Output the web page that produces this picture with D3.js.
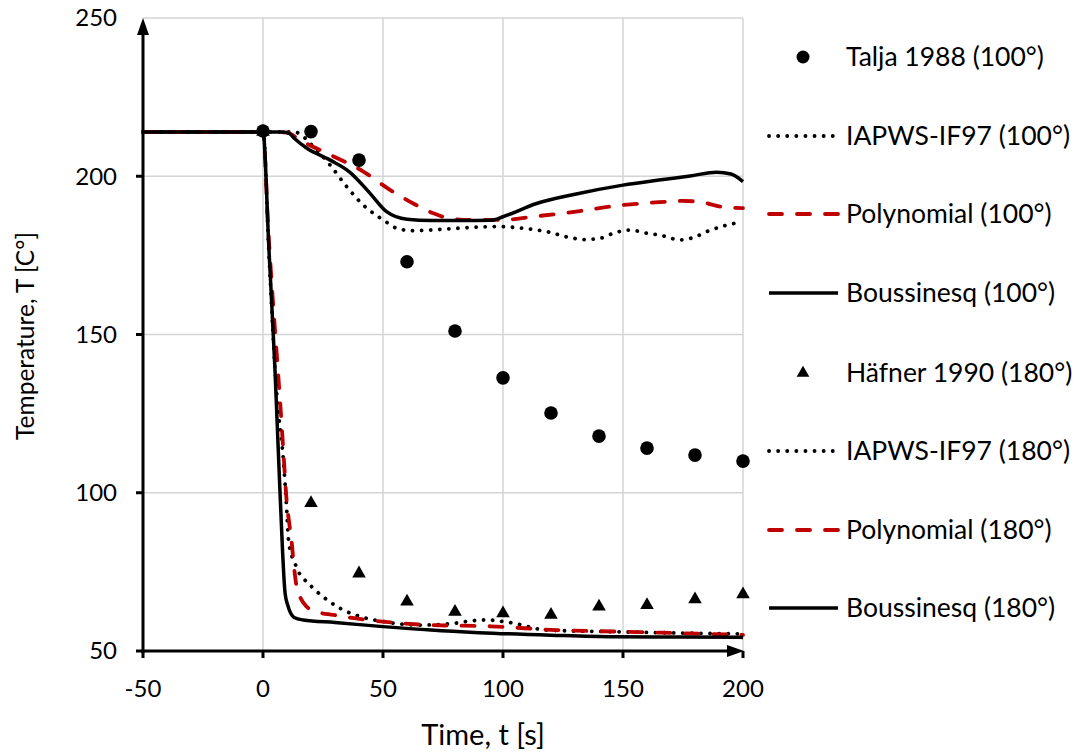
<!DOCTYPE html>
<html>
<head>
<meta charset="utf-8">
<script src="https://cdn.jsdelivr.net/npm/d3@7"></script>
<style>
  body { margin: 0; background: #fff; }
  svg text { font-family: Lato, "Open Sans", sans-serif; fill: #000; }
</style>
</head>
<body>
<div id="chart"></div>
<script>
// measured data (100° pipe, 180° pipe)
const tPts = [0, 20, 40, 60, 80, 100, 120, 140, 160, 180, 200];
const talja100 = [214.3, 214.1, 205.1, 173, 151.1, 136.3, 125.2, 117.9, 114.1, 111.9, 110];
const hafner180 = [214, 96.7, 74.5, 65.6, 62.4, 61.9, 61.4, 64.0, 64.5, 66.3, 67.9];

// simulated curves
const iapws100T = [-50, 0, 10, 14, 20.3, 27.9, 34.9, 41.8, 50.1, 55.7, 62.6, 69.6, 82, 97.4, 108, 118.2, 128, 134, 140, 146, 152.9, 160, 165.4, 173.8, 180, 184.9, 192, 199.5];
const iapws100V = [214, 214, 214, 213.8, 209.9, 203.6, 196.7, 190.9, 186.2, 183.6, 182.8, 183, 183.6, 184.1, 183.6, 182.5, 180.6, 180, 180.3, 182, 183, 182, 181.4, 179.9, 180.8, 182.5, 184.3, 185.6];

const poly100T = [-50, 0, 10, 15.4, 27.9, 41.8, 52.9, 62.6, 71, 78, 86.3, 100, 112, 125, 150, 165, 175, 183, 190, 200];
const poly100V = [214, 214, 213.8, 211.4, 206.8, 201.5, 195.7, 191.4, 188.3, 186.6, 186.2, 186.2, 187.2, 188.3, 190.9, 191.8, 192.2, 191.8, 190.5, 189.9];

const bous100T = [-50, 0, 8, 11, 13, 18, 28, 36, 44.6, 51.5, 60, 70, 82, 95, 100, 114, 130, 150, 165, 178, 189, 195, 200];
const bous100V = [214, 214, 214, 213.5, 212, 209, 205.1, 201.4, 194.6, 188.8, 186.4, 186, 186, 186.1, 187.2, 191.4, 194.3, 197.2, 198.8, 200.1, 201.3, 200.7, 198.3];

const iapws180T = [-50, 0, 2.5, 5.7, 8.5, 9.9, 10.5, 12, 13.3, 14.7, 16.8, 20.3, 22.4, 27, 32.1, 40, 50.1, 65.4, 78, 87.6, 93, 102.9, 118.2, 146, 180.7, 200];
const iapws180V = [214, 214, 175, 131.4, 110.3, 94.5, 86.1, 80, 77.7, 75.1, 73, 70.3, 68.8, 66, 63.5, 61, 59.3, 58.2, 58.6, 59.6, 59.8, 59, 56.6, 56.1, 55.6, 55.4];

const poly180T = [-50, 0, 2.2, 4, 5.7, 7.2, 8.5, 9.9, 11, 12, 13, 14, 15.5, 18.2, 22, 29.3, 46, 69.6, 95, 122.4, 150.1, 175, 200];
const poly180V = [214, 214, 183, 162, 144, 128, 113, 97, 90, 84, 76, 70.3, 67, 64, 62.5, 61.4, 59.6, 58.2, 57.8, 56.6, 56.1, 55.6, 55.1];

const bous180T = [-50, 0, 2.5, 5, 7.1, 9.2, 10.3, 11.5, 13, 16.8, 30, 50, 70, 90, 120, 146, 175, 200];
const bous180V = [214, 214, 176.5, 138.8, 99.9, 68.3, 64.5, 62, 60.6, 59.8, 59, 57.7, 56.6, 55.8, 55, 54.5, 54.4, 54.3];

const xTicks = [-50, 0, 50, 100, 150, 200];
const yTicks = [50, 100, 150, 200, 250];

const legendLabels = ['Talja 1988 (100°)', 'IAPWS-IF97 (100°)', 'Polynomial (100°)', 'Boussinesq (100°)',
                      'Häfner 1990 (180°)', 'IAPWS-IF97 (180°)', 'Polynomial (180°)', 'Boussinesq (180°)'];

const W = 1078, H = 755;
const m = {left: 143, right: 743, top: 18, bottom: 651};
const RED = '#c00000';

const svg = d3.select('#chart').append('svg').attr('width', W).attr('height', H);

const x = d3.scaleLinear().domain([-50, 200]).range([m.left, m.right]);
const y = d3.scaleLinear().domain([50, 250]).range([m.bottom, m.top]);

// grid
const grid = svg.append('g').attr('stroke', '#d4d4d4').attr('stroke-width', 1.5);
grid.selectAll('line.v').data(xTicks.slice(1)).enter().append('line')
  .attr('x1', d => x(d)).attr('x2', d => x(d)).attr('y1', m.top).attr('y2', m.bottom);
grid.selectAll('line.h').data(yTicks.slice(1)).enter().append('line')
  .attr('x1', m.left).attr('x2', m.right).attr('y1', d => y(d)).attr('y2', d => y(d));

// series styles
const styles = {
  dot:  {stroke: '#000', width: 3.8, dash: '0.1,9', cap: 'round'},
  dash: {stroke: RED, width: 3.8, dash: '13,15', cap: 'round'},
  solid:{stroke: '#000', width: 3.5, dash: null, cap: 'butt'}
};
const line = d3.line().x(d => x(d[0])).y(d => y(d[1])).curve(d3.curveMonotoneX);
const zip = (a, b) => a.map((v, i) => [v, b[i]]);

const series = [
  {pts: zip(iapws100T, iapws100V), s: styles.dot},
  {pts: zip(poly100T, poly100V), s: styles.dash},
  {pts: zip(bous100T, bous100V), s: styles.solid},
  {pts: zip(iapws180T, iapws180V), s: styles.dot},
  {pts: zip(poly180T, poly180V), s: styles.dash},
  {pts: zip(bous180T, bous180V), s: styles.solid}
];

const plot = svg.append('g');
plot.selectAll('path.series').data(series).enter().append('path')
  .attr('class', 'series')
  .attr('d', d => line(d.pts))
  .attr('fill', 'none')
  .attr('stroke', d => d.s.stroke)
  .attr('stroke-width', d => d.s.width)
  .attr('stroke-dasharray', d => d.s.dash)
  .attr('stroke-linecap', d => d.s.cap)
  .attr('stroke-linejoin', 'round');

// markers
plot.selectAll('circle.talja').data(zip(tPts, talja100)).enter().append('circle')
  .attr('cx', d => x(d[0])).attr('cy', d => y(d[1])).attr('r', 6.8).attr('fill', '#000');
const tri = d3.symbol().type(d3.symbolTriangle).size(80);
plot.selectAll('path.hafner').data(zip(tPts, hafner180)).enter().append('path')
  .attr('d', tri).attr('fill', '#000')
  .attr('transform', d => `translate(${x(d[0])},${y(d[1])})`);

// axes
const axes = svg.append('g').attr('stroke', '#000').attr('stroke-width', 3);
axes.append('line').attr('x1', m.left).attr('x2', m.left).attr('y1', m.bottom + 2).attr('y2', m.top + 14);
axes.append('line').attr('x1', m.left - 2).attr('x2', m.right - 14).attr('y1', m.bottom).attr('y2', m.bottom);
axes.selectAll('line.yt').data(yTicks.slice(0, -1)).enter().append('line')
  .attr('x1', m.left - 7).attr('x2', m.left).attr('y1', d => y(d)).attr('y2', d => y(d));
axes.selectAll('line.xt').data(xTicks).enter().append('line')
  .attr('x1', d => x(d)).attr('x2', d => x(d)).attr('y1', m.bottom).attr('y2', m.bottom + 7);
// arrow heads
svg.append('path').attr('fill', '#000')
  .attr('d', `M${m.left},${m.top} L${m.left - 6},${m.top + 17} L${m.left + 6},${m.top + 17} Z`);
svg.append('path').attr('fill', '#000')
  .attr('d', `M${m.right + 1},${m.bottom} L${m.right - 16},${m.bottom - 6} L${m.right - 16},${m.bottom + 6} Z`);

// tick labels
svg.selectAll('text.yl').data(yTicks).enter().append('text')
  .attr('x', 117).attr('y', d => y(d)).attr('dy', '0.35em')
  .attr('text-anchor', 'end').attr('font-size', 24).text(d => d);
svg.selectAll('text.xl').data(xTicks).enter().append('text')
  .attr('x', d => x(d)).attr('y', 697)
  .attr('text-anchor', 'middle').attr('font-size', 24).text(d => d);

// axis titles
svg.append('text').attr('x', 483).attr('y', 745).attr('text-anchor', 'middle')
  .attr('font-size', 29).text('Time, t [s]');
svg.append('text').attr('transform', `translate(34,336) rotate(-90)`)
  .attr('text-anchor', 'middle').attr('font-size', 24.5).text('Temperature, T [C°]');

// legend
const legY = [57, 136, 214, 293, 373, 451, 530, 608];
const legKinds = ['circle', 'dot', 'dash', 'solid', 'tri', 'dot', 'dash', 'solid'];
const leg = svg.append('g');
legKinds.forEach((k, i) => {
  const yy = legY[i];
  if (k === 'circle') {
    leg.append('circle').attr('cx', 803).attr('cy', yy).attr('r', 6.5).attr('fill', '#000');
  } else if (k === 'tri') {
    leg.append('path').attr('d', d3.symbol().type(d3.symbolTriangle).size(70))
      .attr('fill', '#000').attr('transform', `translate(803,${yy})`);
  } else {
    const s = styles[k];
    leg.append('line').attr('x1', 769).attr('x2', 838).attr('y1', yy).attr('y2', yy)
      .attr('stroke', s.stroke).attr('stroke-width', s.width)
      .attr('stroke-dasharray', s.dash).attr('stroke-linecap', s.cap);
  }
  leg.append('text').attr('x', 846).attr('y', yy).attr('dy', '0.35em')
    .attr('font-size', 26.5).text(legendLabels[i]);
});
</script>
</body>
</html>
